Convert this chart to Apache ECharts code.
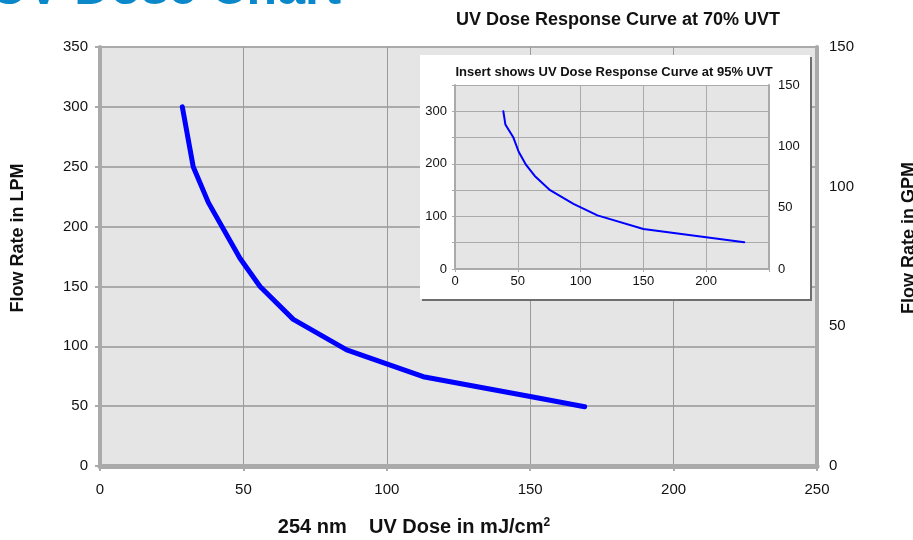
<!DOCTYPE html>
<html><head><meta charset="utf-8">
<script src="https://cdn.jsdelivr.net/npm/echarts@6/dist/echarts.min.js"></script>
<style>html,body{margin:0;padding:0;background:#fff}#c{width:913px;height:540px}</style>
</head><body><div id="c"></div>
<script>
// Main chart: UV dose response at 70% UVT
const mainDose = [28.7, 32.5, 37.8, 48.8, 55.8, 67.4, 86.0, 112.7, 150, 169];
const mainFlow = [300, 250, 220, 173.5, 150, 122.5, 97, 74.6, 58, 49.5];
// Inset: UV dose response at 95% UVT
const insetDose = [38.5, 40.1, 46.5, 50.7, 56.6, 63.5, 75.7, 94.3, 113.4, 150, 230.3];
const insetFlow = [300, 275, 250, 223, 198, 177, 150, 124, 102, 76, 51];

const xTicks = [0, 50, 100, 150, 200, 250];
const lpmTicks = [0, 50, 100, 150, 200, 250, 300, 350];
const gpmTicks = [0, 50, 100, 150];

const FONT = "'Liberation Sans', Arial, sans-serif";
const zip = (a, b) => a.map((v, i) => [v, b[i]]);

const chart = echarts.init(document.getElementById('c'), null, {renderer: 'canvas'});
chart.setOption({
  animation: false,
  backgroundColor: '#ffffff',
  grid: [
    {left: 100, right: 96, top: 47, bottom: 74, show: true, backgroundColor: '#e5e5e5', borderWidth: 0, z: 0},
    {left: 455, right: 144, top: 85, bottom: 271, show: true, backgroundColor: '#e5e5e5', borderWidth: 0, z: 10}
  ],
  xAxis: [
    {gridIndex: 0, type: 'value', min: xTicks[0], max: xTicks[xTicks.length - 1], interval: 50,
     axisLine: {show: true, lineStyle: {color: '#aaaaaa', width: 5}},
     axisTick: {show: true, length: 5, lineStyle: {color: '#aaaaaa', width: 2}},
     axisLabel: {fontSize: 15, color: '#111', margin: 16, fontFamily: FONT},
     splitLine: {show: true, lineStyle: {color: '#9a9a9a', width: 1}}},
    {gridIndex: 1, type: 'value', min: 0, max: 250, interval: 50, z: 11,
     axisLine: {show: true, lineStyle: {color: '#aaaaaa', width: 2}},
     axisTick: {show: true, length: 3, lineStyle: {color: '#aaaaaa'}},
     axisLabel: {fontSize: 13, color: '#111', margin: 6, fontFamily: FONT,
       formatter: v => (v === 250 ? '' : String(v))},
     splitLine: {show: true, lineStyle: {color: '#aaaaaa', width: 1}}}
  ],
  yAxis: [
    {gridIndex: 0, type: 'value', min: lpmTicks[0], max: lpmTicks[lpmTicks.length - 1], interval: 50,
     axisLine: {show: true, onZero: false, lineStyle: {color: '#aaaaaa', width: 4}},
     axisTick: {show: true, length: 5, lineStyle: {color: '#aaaaaa', width: 2}},
     axisLabel: {fontSize: 15, color: '#111', margin: 12, fontFamily: FONT},
     splitLine: {show: true, lineStyle: {color: '#aaaaaa', width: 2}}},
    {gridIndex: 0, type: 'value', position: 'right', min: gpmTicks[0], max: gpmTicks[gpmTicks.length - 1], interval: 50,
     axisLine: {show: true, onZero: false, lineStyle: {color: '#aaaaaa', width: 4}},
     axisTick: {show: false},
     axisLabel: {fontSize: 15, color: '#111', margin: 12, fontFamily: FONT},
     splitLine: {show: false}},
    {gridIndex: 0, type: 'value', position: 'right', min: 0, max: 350, interval: 50,
     axisLine: {show: false},
     axisTick: {show: true, length: 5, lineStyle: {color: '#aaaaaa', width: 2}},
     axisLabel: {show: false}, splitLine: {show: false}},
    {gridIndex: 1, type: 'value', min: 0, max: 350, interval: 50, z: 11,
     axisLine: {show: true, onZero: false, lineStyle: {color: '#aaaaaa', width: 2}},
     axisTick: {show: true, length: 3, lineStyle: {color: '#aaaaaa'}},
     axisLabel: {fontSize: 13, color: '#111', margin: 8, fontFamily: FONT,
       formatter: v => (v % 100 === 0 ? String(v) : '')},
     splitLine: {show: true, lineStyle: {color: '#aaaaaa', width: 1}}},
    {gridIndex: 1, type: 'value', position: 'right', min: 0, max: 150, interval: 50, z: 11,
     axisLine: {show: true, onZero: false, lineStyle: {color: '#aaaaaa', width: 2}},
     axisTick: {show: false},
     axisLabel: {fontSize: 13, color: '#111', margin: 9, fontFamily: FONT},
     splitLine: {show: false}}
  ],
  series: [
    {type: 'line', xAxisIndex: 0, yAxisIndex: 0, data: zip(mainDose, mainFlow), symbol: 'none', z: 2,
     lineStyle: {color: '#0000ff', width: 5, cap: 'round', join: 'round'}},
    {type: 'line', xAxisIndex: 1, yAxisIndex: 3, data: zip(insetDose, insetFlow), symbol: 'none', z: 12,
     lineStyle: {color: '#0000ff', width: 2, cap: 'round', join: 'round'}}
  ],
  graphic: [
    {type: 'rect', z: 5, shape: {x: 422, y: 57, width: 390, height: 244}, style: {fill: '#6e6e6e'}},
    {type: 'rect', z: 6, shape: {x: 420, y: 55, width: 390, height: 244}, style: {fill: '#ffffff'}},
    {type: 'text', z: 20, x: -9, y: -10, style: {text: 'UV Dose Chart', font: "bold 50px " + FONT, fill: '#0a88c9', textAlign: 'left', textVerticalAlign: 'middle'}},
    {type: 'text', z: 20, x: 618, y: 20, style: {text: 'UV Dose Response Curve at 70% UVT', font: "bold 18px " + FONT, fill: '#111', textAlign: 'center', textVerticalAlign: 'middle'}},
    {type: 'text', z: 20, x: 614, y: 72, style: {text: 'Insert shows UV Dose Response Curve at 95% UVT', font: "bold 13px " + FONT, fill: '#111', textAlign: 'center', textVerticalAlign: 'middle'}},
    {type: 'text', z: 20, x: 18, y: 238, rotation: Math.PI / 2, style: {text: 'Flow Rate in LPM', font: "bold 18px " + FONT, fill: '#111', textAlign: 'center', textVerticalAlign: 'middle'}},
    {type: 'text', z: 20, x: 909, y: 238, rotation: Math.PI / 2, style: {text: 'Flow Rate in GPM', font: "bold 18px " + FONT, fill: '#111', textAlign: 'center', textVerticalAlign: 'middle'}},
    {type: 'text', z: 20, x: 414, y: 527, style: {
      text: '{a|254 nm    UV Dose in mJ/cm}{s|2}', textAlign: 'center', textVerticalAlign: 'middle',
      rich: {a: {font: "bold 20px " + FONT, fill: '#111'}, s: {font: "bold 12px " + FONT, fill: '#111', verticalAlign: 'top'}}}}
  ]
});
</script>
</body></html>
